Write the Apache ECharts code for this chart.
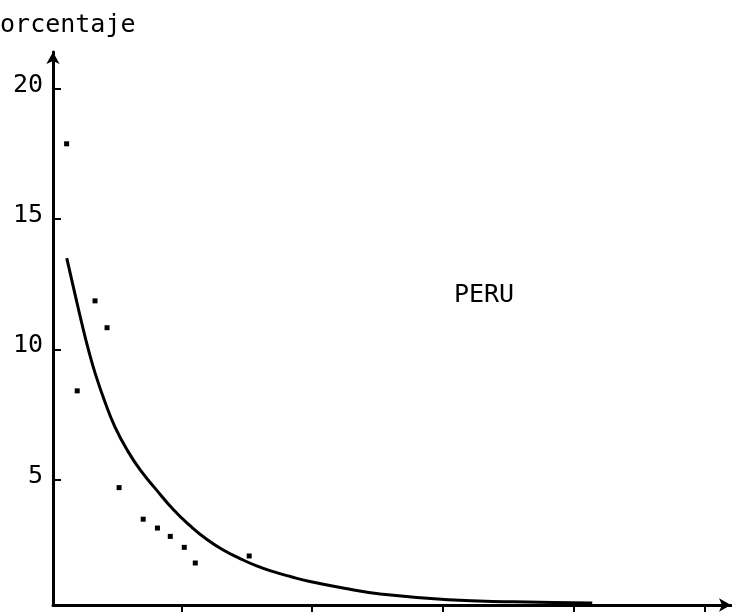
<!DOCTYPE html>
<html>
<head>
<meta charset="utf-8">
<script src="https://cdn.jsdelivr.net/npm/echarts@6/dist/echarts.min.js"></script>
<style>
  html, body { margin: 0; padding: 0; background: #fff; }
  #chart { width: 732px; height: 615px; }
</style>
</head>
<body>
<div id="chart"></div>
<script>
// Observed shares (percent) by position along the horizontal scale
const observedX = [1.24, 2.05, 3.41, 4.33, 5.25, 7.09, 8.18, 9.16, 10.23, 11.07, 15.19];
const observedY = [17.88, 8.41, 11.86, 10.83, 4.70, 3.49, 3.15, 2.83, 2.41, 1.81, 2.08];

// Fitted decay curve
const fitX = [1.25, 1.88, 2.39, 2.90, 3.41, 4.17, 4.94, 5.95, 6.98, 7.99, 9.39, 10.67,
              11.94, 13.21, 14.49, 15.76, 17.03, 18.33, 19.83, 22.7, 25.2, 30.4, 35.4, 41.4];
const fitY = [13.50, 12.12, 11.02, 10.00, 9.10, 7.98, 7.02, 6.07, 5.30, 4.68, 3.86, 3.24,
              2.72, 2.31, 1.98, 1.70, 1.48, 1.29, 1.10, 0.82, 0.62, 0.40, 0.32, 0.28];

// Axis tick positions
const yTickValues = [5, 10, 15, 20];
const xTickValues = [10, 20, 30, 40, 50];

const yAxisTitle = 'Porcentaje';
const countryLabel = 'PERU';

const FONT = '"DejaVu Sans Mono", "Liberation Mono", monospace';
const INK = '#000';

const chart = echarts.init(document.getElementById('chart'), null, { renderer: 'canvas' });

chart.setOption({
  backgroundColor: '#fff',
  animation: false,
  grid: {
    left: 53, right: 1, top: 52, bottom: 10,
    containLabel: false,
    outerBoundsMode: 'none'
  },
  xAxis: {
    type: 'value',
    min: 0.2,
    max: 52,
    splitLine: { show: false },
    axisLine: {
      onZero: false,
      symbol: ['none', 'arrow'],
      symbolSize: [10, 12],
      lineStyle: { color: INK, width: 3 }
    },
    axisTick: {
      show: true,
      inside: false,
      length: 7,
      customValues: xTickValues,
      lineStyle: { color: INK, width: 2 }
    },
    axisLabel: { show: false }
  },
  yAxis: {
    type: 'value',
    min: 0.2,
    max: 21.4,
    splitLine: { show: false },
    axisLine: {
      onZero: false,
      symbol: ['none', 'arrow'],
      symbolSize: [10, 12],
      lineStyle: { color: INK, width: 3 }
    },
    axisTick: {
      show: true,
      inside: true,
      length: 8,
      customValues: yTickValues,
      lineStyle: { color: INK, width: 2 }
    },
    axisLabel: {
      customValues: yTickValues,
      margin: 10,
      color: INK,
      fontFamily: FONT,
      fontSize: 25,
      verticalAlign: 'bottom',
      lineHeight: 7
    }
  },
  graphic: [
    {
      type: 'text',
      x: -15,
      y: 25,
      style: {
        text: yAxisTitle,
        fill: INK,
        font: '25px ' + FONT,
        textAlign: 'left',
        textVerticalAlign: 'middle'
      }
    },
    {
      type: 'text',
      x: 484,
      y: 295,
      style: {
        text: countryLabel,
        fill: INK,
        font: '25px ' + FONT,
        textAlign: 'center',
        textVerticalAlign: 'middle'
      }
    }
  ],
  series: [
    {
      type: 'line',
      data: fitX.map((x, i) => [x, fitY[i]]),
      smooth: 0.5,
      showSymbol: false,
      lineStyle: { color: INK, width: 3 },
      z: 3
    },
    {
      type: 'scatter',
      data: observedX.map((x, i) => [x, observedY[i]]),
      symbol: 'rect',
      symbolSize: 5,
      itemStyle: { color: INK, opacity: 1 },
      z: 4
    }
  ]
});
</script>
</body>
</html>
